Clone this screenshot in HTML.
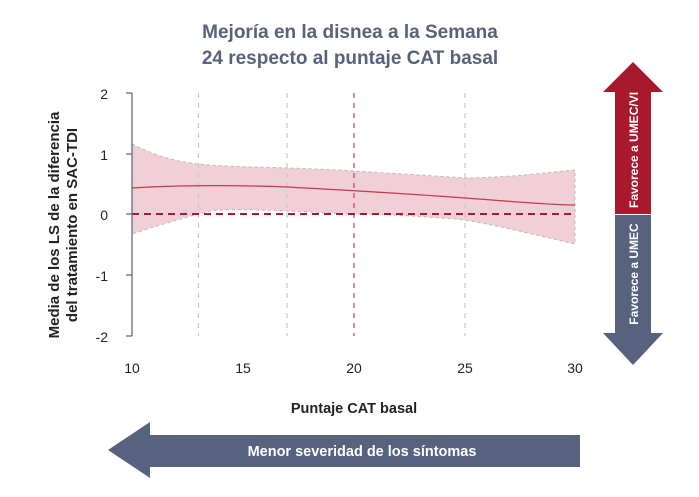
<!DOCTYPE html>
<html><head><meta charset="utf-8"><style>
body{margin:0;background:#fff;}
svg{display:block;font-family:"Liberation Sans",sans-serif;}
</style></head><body>
<svg width="699" height="497" viewBox="0 0 699 497">
<text x="350" y="38" text-anchor="middle" font-size="19" font-weight="bold" fill="#56627e">Mejoría en la disnea a la Semana</text>
<text x="350" y="64" text-anchor="middle" font-size="19" font-weight="bold" fill="#56627e">24 respecto al puntaje CAT basal</text>
<path d="M132,144 C160,158 180,162 198,164 C230,167 260,167 287,168 C320,169 340,170 354,171 C400,174 440,176 465,178 C520,177 550,172 575,170 L575,244 C540,236 500,226 465,220 C420,216 380,214 354,214 C330,213 310,212 287,211 C260,210 240,209 220,210 C210,210 205,213 198,214 C170,222 150,228 132,234 Z" fill="#f0d0d6" stroke="#b8b8b8" stroke-dasharray="3,3" stroke-width="1"/>
<g stroke-dasharray="5,5" stroke-width="1.2">
<line x1="198.5" y1="93" x2="198.5" y2="336" stroke="#c8c8c8"/>
<line x1="287" y1="93" x2="287" y2="336" stroke="#c8c8c8"/>
<line x1="465" y1="93" x2="465" y2="336" stroke="#c8c8c8"/>
<line x1="354" y1="93" x2="354" y2="336" stroke="#d04055"/>
</g>
<line x1="132" y1="214" x2="575" y2="214" stroke="#a8192e" stroke-width="2" stroke-dasharray="7,5"/>
<path d="M132,188 C180,185 240,185 287,187 C340,190 400,193 465,198 C520,202 550,205 575,205" fill="none" stroke="#c03a50" stroke-width="1.3"/>
<g stroke="#56627e" stroke-width="1.2" fill="none">
<line x1="132" y1="93" x2="132" y2="336"/>
<line x1="126" y1="93" x2="132" y2="93"/><line x1="126" y1="154" x2="132" y2="154"/><line x1="126" y1="214" x2="132" y2="214"/><line x1="126" y1="275" x2="132" y2="275"/><line x1="126" y1="336" x2="132" y2="336"/>
</g>
<g font-size="14" fill="#222" text-anchor="end">
<text x="108" y="99">2</text><text x="108" y="160">1</text><text x="108" y="220">0</text><text x="108" y="281">-1</text><text x="108" y="342">-2</text>
</g>
<g font-size="14" fill="#222" text-anchor="middle">
<text x="132" y="373">10</text><text x="243" y="373">15</text><text x="354" y="373">20</text><text x="465" y="373">25</text><text x="575" y="373">30</text>
</g>
<text x="354" y="413" text-anchor="middle" font-size="14.5" font-weight="bold" fill="#222">Puntaje CAT basal</text>
<text transform="translate(59,225) rotate(-90)" text-anchor="middle" font-size="15" font-weight="bold" fill="#222">Media de los LS de la diferencia</text>
<text transform="translate(77,225) rotate(-90)" text-anchor="middle" font-size="15" font-weight="bold" fill="#222">del tratamiento en SAC-TDI</text>
<polygon points="633,62 663,92 651,92 651,214 615,214 615,92 603,92" fill="#a8192e"/>
<polygon points="615,215 651,215 651,333 663,333 633,365 603,333 615,333" fill="#56627e"/>
<text transform="translate(638,150) rotate(-90)" text-anchor="middle" font-size="12" font-weight="bold" fill="#fff">Favorece a UMEC/VI</text>
<text transform="translate(638,274) rotate(-90)" text-anchor="middle" font-size="12" font-weight="bold" fill="#fff">Favorece a UMEC</text>
<polygon points="108,450 150,422 150,435 580,435 580,467 150,467 150,478" fill="#56627e"/>
<text x="362" y="456" text-anchor="middle" font-size="14.5" font-weight="bold" fill="#fff">Menor severidad de los síntomas</text>
</svg>
</body></html>
